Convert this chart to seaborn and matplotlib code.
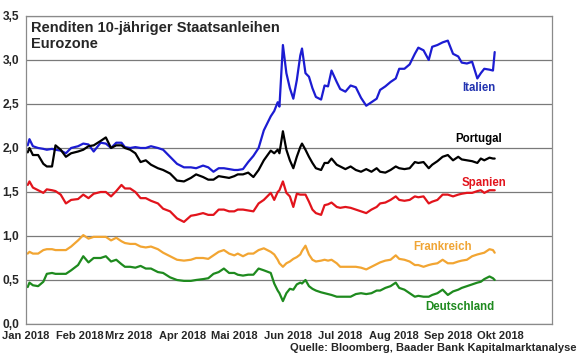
import matplotlib
matplotlib.use("Agg")
import matplotlib.pyplot as plt
import matplotlib.ticker as mticker
import numpy as np
import pandas as pd
import seaborn as sns

dates = [
    "2018-01-02", "2018-01-03", "2018-01-05", "2018-01-08", "2018-01-11", "2018-01-13",
    "2018-01-16", "2018-01-18", "2018-01-21", "2018-01-24", "2018-01-27", "2018-01-31",
    "2018-02-03", "2018-02-06", "2018-02-09", "2018-02-13", "2018-02-16", "2018-02-19",
    "2018-02-22", "2018-02-25", "2018-02-27",
    "2018-03-02", "2018-03-05", "2018-03-08", "2018-03-11", "2018-03-14", "2018-03-18",
    "2018-03-21", "2018-03-25", "2018-03-29",
    "2018-04-02", "2018-04-06", "2018-04-09", "2018-04-13", "2018-04-16", "2018-04-19",
    "2018-04-22", "2018-04-25", "2018-04-28",
    "2018-05-01", "2018-05-03", "2018-05-06", "2018-05-09", "2018-05-12", "2018-05-15",
    "2018-05-18", "2018-05-22", "2018-05-24", "2018-05-26",
    "2018-05-27", "2018-05-29", "2018-05-31", "2018-06-02", "2018-06-04", "2018-06-06",
    "2018-06-08", "2018-06-09", "2018-06-11", "2018-06-13", "2018-06-15", "2018-06-17",
    "2018-06-20", "2018-06-22", "2018-06-24", "2018-06-26", "2018-06-29",
    "2018-07-01", "2018-07-04", "2018-07-07", "2018-07-10", "2018-07-13", "2018-07-16",
    "2018-07-19", "2018-07-22", "2018-07-24", "2018-07-27", "2018-07-30",
    "2018-08-02", "2018-08-04", "2018-08-07", "2018-08-10", "2018-08-13", "2018-08-15",
    "2018-08-18", "2018-08-21", "2018-08-23", "2018-08-26", "2018-08-29",
    "2018-09-01", "2018-09-04", "2018-09-07", "2018-09-09", "2018-09-12", "2018-09-15",
    "2018-09-18", "2018-09-20", "2018-09-22", "2018-09-25", "2018-09-27", "2018-09-28",
]

italien = [
    2.03, 2.10, 2.02, 2.00, 1.99, 1.98, 1.99, 1.98, 1.97, 1.94, 2.00, 2.02,
    2.05, 2.04, 1.96, 2.06, 2.05, 2.00, 2.06, 2.06, 2.01,
    2.00, 2.01, 2.00, 2.00, 2.02, 2.00, 1.98, 1.90, 1.82,
    1.78, 1.78, 1.77, 1.80, 1.78, 1.73, 1.77, 1.77, 1.76,
    1.75, 1.75, 1.76, 1.84, 1.91, 2.00, 2.20, 2.36, 2.42, 2.52,
    2.47, 3.17, 2.85, 2.68, 2.56, 2.77, 3.05, 3.13, 2.85, 2.81, 2.68, 2.58,
    2.55, 2.71, 2.70, 2.88, 2.75,
    2.67, 2.64, 2.71, 2.69, 2.57, 2.48, 2.52, 2.56, 2.66, 2.70, 2.75,
    2.79, 2.90, 2.90, 2.95, 3.07, 3.14, 3.11, 3.00, 3.15, 3.17, 3.20,
    3.22, 3.07, 3.04, 2.97, 2.96, 2.98, 2.79, 2.85, 2.90, 2.89, 2.88, 3.09,
]

portugal = [
    1.95, 2.00, 1.92, 1.92, 1.82, 1.79, 1.79, 2.03, 1.98, 1.90, 1.94, 1.96,
    1.98, 2.02, 2.03, 2.08, 2.12, 2.00, 2.03, 2.03, 2.00,
    1.98, 1.94, 1.84, 1.86, 1.81, 1.77, 1.75, 1.71, 1.63,
    1.62, 1.66, 1.70, 1.67, 1.64, 1.64, 1.68, 1.67, 1.66,
    1.68, 1.70, 1.70, 1.72, 1.67, 1.75, 1.86, 1.97, 1.94, 1.98,
    1.94, 2.19, 1.98, 1.86, 1.77, 1.90, 2.01, 2.05, 1.98, 1.90, 1.83, 1.77,
    1.75, 1.83, 1.83, 1.88, 1.81,
    1.79, 1.76, 1.79, 1.75, 1.73, 1.76, 1.73, 1.77, 1.73, 1.72, 1.75,
    1.79, 1.77, 1.76, 1.77, 1.84, 1.83, 1.84, 1.77, 1.81, 1.85, 1.90,
    1.92, 1.86, 1.90, 1.87, 1.86, 1.85, 1.83, 1.88, 1.86, 1.89, 1.88, 1.88,
]

spanien = [
    1.58, 1.62, 1.55, 1.52, 1.49, 1.53, 1.52, 1.51, 1.47, 1.37, 1.41, 1.42,
    1.47, 1.43, 1.48, 1.50, 1.50, 1.45, 1.51, 1.58, 1.54,
    1.54, 1.50, 1.43, 1.43, 1.40, 1.37, 1.31, 1.28, 1.20,
    1.16, 1.23, 1.24, 1.26, 1.24, 1.24, 1.30, 1.30, 1.28,
    1.28, 1.30, 1.30, 1.29, 1.28, 1.37, 1.41, 1.49, 1.41, 1.50,
    1.52, 1.62, 1.49, 1.45, 1.33, 1.48, 1.47, 1.47, 1.47, 1.39, 1.30, 1.26,
    1.24, 1.35, 1.36, 1.38, 1.33,
    1.32, 1.33, 1.32, 1.30, 1.28, 1.26, 1.30, 1.33, 1.37, 1.38, 1.41,
    1.45, 1.41, 1.40, 1.41, 1.45, 1.44, 1.45, 1.37, 1.39, 1.41, 1.47,
    1.47, 1.45, 1.47, 1.48, 1.49, 1.49, 1.51, 1.52, 1.49, 1.52, 1.52, 1.52,
]

frankreich = [
    0.80, 0.82, 0.80, 0.80, 0.84, 0.85, 0.85, 0.84, 0.84, 0.84, 0.88, 0.95,
    1.01, 0.97, 0.99, 0.99, 0.99, 0.95, 0.98, 0.94, 0.92,
    0.91, 0.91, 0.88, 0.87, 0.88, 0.85, 0.81, 0.77, 0.73,
    0.72, 0.73, 0.75, 0.75, 0.74, 0.78, 0.82, 0.84, 0.80,
    0.78, 0.80, 0.77, 0.80, 0.80, 0.84, 0.86, 0.82, 0.79, 0.73,
    0.69, 0.65, 0.69, 0.71, 0.74, 0.76, 0.79, 0.83, 0.89, 0.79, 0.73, 0.71,
    0.72, 0.73, 0.72, 0.73, 0.69,
    0.65, 0.65, 0.65, 0.65, 0.64, 0.62, 0.65, 0.68, 0.70, 0.72, 0.73,
    0.78, 0.74, 0.73, 0.71, 0.67, 0.67, 0.65, 0.67, 0.68, 0.69, 0.73,
    0.69, 0.69, 0.71, 0.72, 0.73, 0.77, 0.79, 0.80, 0.81, 0.85, 0.84, 0.81,
]

deutschland = [
    0.42, 0.47, 0.44, 0.43, 0.48, 0.57, 0.58, 0.57, 0.57, 0.57, 0.61, 0.67,
    0.77, 0.70, 0.75, 0.75, 0.77, 0.71, 0.73, 0.68, 0.65,
    0.65, 0.64, 0.66, 0.63, 0.63, 0.59, 0.58, 0.53, 0.50,
    0.49, 0.49, 0.50, 0.51, 0.52, 0.57, 0.59, 0.63, 0.58,
    0.58, 0.56, 0.55, 0.56, 0.56, 0.63, 0.61, 0.58, 0.46, 0.38,
    0.35, 0.26, 0.35, 0.40, 0.39, 0.45, 0.47, 0.46, 0.50, 0.43, 0.40, 0.38,
    0.36, 0.35, 0.34, 0.33, 0.31,
    0.31, 0.31, 0.31, 0.34, 0.35, 0.34, 0.35, 0.38, 0.38, 0.41, 0.43,
    0.47, 0.41, 0.39, 0.35, 0.31, 0.32, 0.31, 0.31, 0.33, 0.35, 0.39,
    0.33, 0.37, 0.39, 0.41, 0.43, 0.45, 0.47, 0.48, 0.51, 0.54, 0.52, 0.50,
]

laender = ["Italien", "Portugal", "Spanien", "Frankreich", "Deutschland"]
farben = ["#1c1cd2", "#000000", "#e2141c", "#f2a532", "#1e8a1e"]
text_farben = ["#2233b0", "#000000", "#e2141c", "#f0a535", "#1e8a1e"]
# Position der Beschriftungen (Datum, Rendite)
label_pos = [("2018-09-19", 2.68), ("2018-09-19", 2.10), ("2018-09-22", 1.60),
             ("2018-08-29", 0.88), ("2018-09-08", 0.19)]
monate = ["Jan 2018", "Feb 2018", "Mrz 2018", "Apr 2018", "Mai 2018",
          "Jun 2018", "Jul 2018", "Aug 2018", "Sep 2018", "Okt 2018"]

df = pd.DataFrame({"Datum": pd.to_datetime(dates), "Italien": italien,
                   "Portugal": portugal, "Spanien": spanien,
                   "Frankreich": frankreich, "Deutschland": deutschland})
df_long = df.melt(id_vars="Datum", var_name="Land", value_name="Rendite")

sns.set_style("white")
plt.rcParams["font.family"] = ["Liberation Sans", "DejaVu Sans"]
plt.rcParams["font.weight"] = "bold"

fig = plt.figure(figsize=(5.8, 3.59), dpi=100)
ax = fig.add_axes([0.0448, 0.0975, 0.9069, 0.858])

sns.lineplot(data=df_long, x="Datum", y="Rendite", hue="Land", hue_order=laender,
             palette=dict(zip(laender, farben)), linewidth=1.6, legend=False, ax=ax)

ax.set_xlim(pd.Timestamp("2018-01-01"), pd.Timestamp("2018-10-31"))
ax.set_ylim(0, 3.5)
ax.set_yticks(np.arange(0, 3.51, 0.5))
ax.yaxis.set_major_formatter(mticker.FuncFormatter(lambda v, p: f"{v:.1f}".replace(".", ",")))
ax.set_xticks(pd.date_range("2018-01-01", periods=len(monate), freq="MS"))
ax.set_xticklabels(monate)
ax.set_xlabel("")
ax.set_ylabel("")

ax.grid(axis="y", color="#7a7a7a", linewidth=0.9)
ax.set_axisbelow(True)
for s in ax.spines.values():
    s.set_color("#8a8a8a")
    s.set_linewidth(0.9)

ax.tick_params(axis="x", labelsize=8, length=3, width=0.8, color="#8a8a8a", pad=2)
ax.tick_params(axis="y", labelsize=8.6, length=2, width=0.8, color="#8a8a8a", pad=3)
for lab in ax.get_xticklabels() + ax.get_yticklabels():
    lab.set_fontweight("bold")

for land, (d, v), c in zip(laender, label_pos, text_farben):
    ax.text(pd.Timestamp(d), v, land, color=c, fontsize=8.3, fontweight="bold",
            ha="center", va="center")

fig.text(31 / 580, 1 - 21 / 359, "Renditen 10-jähriger Staatsanleihen\nEurozone",
         fontsize=10.5, fontweight="bold", ha="left", va="top", linespacing=1.15)
fig.text(576 / 580, 1 - 348 / 359, "Quelle: Bloomberg, Baader Bank Kapitalmarktanalyse",
         fontsize=8, fontweight="bold", ha="right", va="center")

fig.savefig("out.png", dpi=100)
